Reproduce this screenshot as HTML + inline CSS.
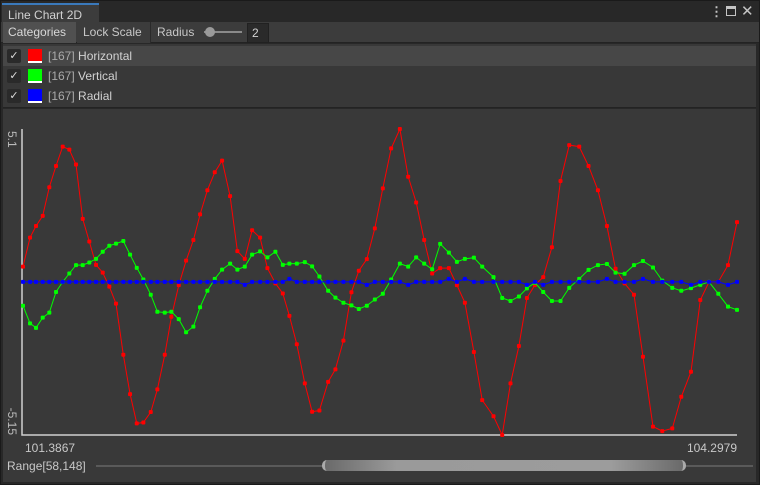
<!DOCTYPE html>
<html><head><meta charset="utf-8"><style>
body{margin:0;width:760px;height:485px;background:#282828;font-family:"Liberation Sans",sans-serif;font-size:12px;color:#c8c8c8;overflow:hidden;position:relative}
div{box-sizing:border-box}
.abs{position:absolute}
</style></head><body>
<div class="abs" style="left:0;top:0;width:760px;height:485px;border:1px solid #1a1a1a"></div>
<div class="abs" style="left:2px;top:3px;width:97px;height:20px;background:#3c3c3c;border-top:2px solid #3a79bb;padding:3px 6px;color:#d2d2d2">Line Chart 2D</div>
<div class="abs" style="left:710px;top:4px;color:#c4c4c4;font-size:13px;font-weight:bold">⋮</div>
<div class="abs" style="left:726px;top:6px;width:10px;height:10px;border:1.5px solid #c4c4c4;border-top-width:3px"></div>
<div class="abs" style="left:741px;top:2px;color:#c4c4c4;font-size:15px">✕</div>
<div class="abs" style="left:1px;top:22px;width:758px;height:21px;background:#3c3c3c;border-bottom:1px solid #232323"></div>
<div class="abs" style="left:3px;top:22px;width:73px;height:21px;background:#505050;padding:3px 5px;color:#d8d8d8">Categories</div>
<div class="abs" style="left:77px;top:22px;width:74px;height:21px;background:#3c3c3c;border-right:1px solid #2a2a2a;padding:3px 6px">Lock Scale</div>
<div class="abs" style="left:157px;top:25px">Radius</div>
<div class="abs" style="left:204px;top:31px;width:38px;height:2px;background:#8a8a8a"></div>
<div class="abs" style="left:205px;top:27px;width:10px;height:10px;border-radius:5px;background:#9a9a9a"></div>
<div class="abs" style="left:247px;top:23px;width:22px;height:20px;background:#2a2a2a;border:1px solid #212121;padding:2px 4px;color:#d2d2d2">2</div>
<div class="abs" style="left:3px;top:44px;width:753px;height:64px;background:#383838;border-bottom:1px solid #232323"></div>
<div class="abs" style="left:3px;top:46px;width:753px;height:20px;background:#474747"></div>
<div>
<div class="abs" style="left:7px;top:49px;width:14px;height:14px;background:#2a2a2a;border-radius:2px;color:#ddd;font-size:11px;text-align:center;line-height:14px">✓</div>
<div class="abs" style="left:28px;top:49px;width:14px;height:14px;background:#f00;border-bottom:2px solid #fff"></div>
<div class="abs" style="left:48px;top:49px;color:#d2d2d2"><span style="color:#aaa">[167]</span> Horizontal</div></div>
<div>
<div class="abs" style="left:7px;top:69px;width:14px;height:14px;background:#2a2a2a;border-radius:2px;color:#ddd;font-size:11px;text-align:center;line-height:14px">✓</div>
<div class="abs" style="left:28px;top:69px;width:14px;height:14px;background:#0f0;border-bottom:2px solid #fff"></div>
<div class="abs" style="left:48px;top:69px;color:#d2d2d2"><span style="color:#aaa">[167]</span> Vertical</div></div>
<div>
<div class="abs" style="left:7px;top:89px;width:14px;height:14px;background:#2a2a2a;border-radius:2px;color:#ddd;font-size:11px;text-align:center;line-height:14px">✓</div>
<div class="abs" style="left:28px;top:89px;width:14px;height:14px;background:#00f;border-bottom:2px solid #fff"></div>
<div class="abs" style="left:48px;top:89px;color:#d2d2d2"><span style="color:#aaa">[167]</span> Radial</div></div>
<div class="abs" style="left:3px;top:109px;width:753px;height:373px;background:#393939"></div>
<svg class="abs" id="chart" style="left:0;top:0" width="760" height="485"></svg>
<div class="abs" style="left:7px;top:459px">Range[58,148]</div>
<div class="abs" style="left:96px;top:465px;width:657px;height:2px;background:#5a5a5a"></div>
<div class="abs" style="left:322px;top:460px;width:364px;height:11px;border-radius:5px;background:linear-gradient(90deg,#6a6a6a,#9a9a9a 20%,#9c9c9c 80%,#6a6a6a);border-left:3px solid #aaa;border-right:3px solid #aaa"></div>
<script>
const xVals=[101.3867,101.4153,101.4397,101.4671,101.4940,101.5213,101.5486,101.5756,101.6029,101.6302,101.6571,101.6845,101.7118,101.7387,101.7660,101.7958,101.8232,101.8505,101.8774,101.9076,101.9345,101.9647,101.9916,102.0218,102.0516,102.0814,102.1087,102.1385,102.1686,102.1984,102.2311,102.2608,102.2910,102.3208,102.3534,102.3832,102.4158,102.4460,102.4729,102.5031,102.5358,102.5655,102.5953,102.6308,102.6606,102.6932,102.7258,102.7560,102.7886,102.8213,102.8539,102.8878,102.9233,102.9571,102.9897,103.0224,103.0550,103.0876,103.1231,103.1558,103.1884,103.2251,103.2590,103.3051,103.3405,103.3744,103.4087,103.4413,103.4739,103.5078,103.5433,103.5783,103.6138,103.6546,103.6926,103.7309,103.7676,103.8027,103.8394,103.8778,103.9145,103.9553,103.9932,104.0340,104.0707,104.1102,104.1482,104.1837,104.2216,104.2612,104.2979];
const horizontal=[0.49,1.46,1.85,2.19,3.15,3.86,4.51,4.41,3.91,2.09,1.33,0.55,0.29,-0.18,-0.75,-2.46,-3.78,-4.76,-4.73,-4.38,-3.62,-2.46,-1.19,-0.13,0.69,1.38,2.24,3.05,3.65,4.04,2.85,1.01,0.75,1.71,1.46,0.44,-0.07,-0.41,-1.16,-2.11,-3.42,-4.37,-4.33,-3.37,-2.95,-1.99,-0.37,0.35,0.74,1.77,3.11,4.45,5.10,3.50,2.64,1.38,0.26,0.44,0.44,-0.13,-0.72,-2.37,-3.98,-4.52,-5.15,-3.42,-2.17,-0.56,-0.13,0.14,1.14,3.36,4.56,4.51,3.86,3.05,1.85,0.42,-0.07,-0.45,-2.53,-4.87,-5.02,-4.93,-3.87,-3.03,-0.63,-0.02,-0.02,0.54,1.98];
const vertical=[-0.82,-1.41,-1.56,-1.22,-1.05,-0.36,-0.02,0.26,0.54,0.54,0.63,0.75,0.99,1.19,1.26,1.35,0.89,0.45,0.06,-0.45,-1.02,-1.05,-1.02,-1.27,-1.71,-1.52,-0.87,-0.32,0.08,0.39,0.59,0.39,0.49,0.89,1.00,0.80,0.99,0.55,0.59,0.59,0.64,0.50,0.16,-0.32,-0.55,-0.72,-0.81,-0.93,-0.82,-0.61,-0.42,0.06,0.59,0.49,0.80,0.59,0.40,1.25,0.96,0.65,0.75,0.79,0.49,0.14,-0.56,-0.66,-0.51,-0.24,-0.05,-0.36,-0.66,-0.66,-0.22,0.08,0.38,0.54,0.58,0.29,0.25,0.54,0.68,0.46,0.02,-0.22,-0.32,-0.23,-0.12,-0.02,-0.42,-0.85,-0.96];
const radial=[-0.02,-0.02,-0.02,-0.02,-0.02,-0.02,-0.02,-0.02,-0.02,-0.02,-0.02,-0.02,-0.02,-0.02,-0.02,-0.02,-0.02,-0.02,-0.02,-0.02,-0.02,-0.02,-0.02,-0.02,-0.02,-0.02,-0.02,-0.02,-0.02,-0.02,-0.02,-0.02,-0.12,-0.02,-0.02,-0.02,-0.02,-0.02,0.08,-0.02,-0.02,-0.02,-0.02,-0.02,-0.02,-0.02,-0.02,-0.02,-0.12,-0.02,-0.02,-0.02,-0.02,-0.12,-0.02,-0.02,-0.02,-0.02,0.08,-0.02,0.08,-0.02,-0.02,-0.02,-0.02,-0.02,-0.02,-0.12,-0.02,-0.12,-0.02,-0.02,-0.02,-0.02,-0.02,-0.02,0.08,-0.02,-0.02,-0.02,0.08,-0.02,-0.02,-0.02,-0.02,-0.12,-0.02,-0.02,-0.02,-0.12,-0.02];
const yTicks=["5.1","-5.15"];
const xTicks=["101.3867","104.2979"];
const yMax=5.1,yMin=-5.15;
const NS="http://www.w3.org/2000/svg";
const svg=document.getElementById('chart');
const L=23,R=737,T=129,B=435;
const xMin=xVals[0],xMax=xVals[xVals.length-1];
function sx(v){return L+(v-xMin)/(xMax-xMin)*(R-L);}
function sy(v){return T+(yMax-v)/(yMax-yMin)*(B-T);}
function mk(tag,attrs){const e=document.createElementNS(NS,tag);for(const k in attrs)e.setAttribute(k,attrs[k]);svg.appendChild(e);return e;}
const ax=mk('path',{d:`M${L-1},${T} V${B} H${R}`,stroke:'#d0d0d0','stroke-width':1.5,fill:'none'});


const yt1=mk('text',{x:0,y:0,fill:'#bbb','font-size':12,'font-family':'Liberation Sans, sans-serif','text-anchor':'start',transform:`translate(8,${T+2}) rotate(90)`});
yt1.textContent=yTicks[0];


const yt2=mk('text',{x:0,y:0,fill:'#bbb','font-size':12,'font-family':'Liberation Sans, sans-serif','text-anchor':'end',transform:`translate(8,${B}) rotate(90)`});
yt2.textContent=yTicks[1];


const xt1=mk('text',{x:L+2,y:452,fill:'#c8c8c8','font-size':12,'font-family':'Liberation Sans, sans-serif'});
xt1.textContent=xTicks[0];


const xt2=mk('text',{x:R,y:452,fill:'#c8c8c8','font-size':12,'font-family':'Liberation Sans, sans-serif','text-anchor':'end'});
xt2.textContent=xTicks[1];


function series(vals,color,name){
  const pts=vals.map((v,i)=>sx(xVals[i]).toFixed(1)+','+sy(v).toFixed(1)).join(' ');
  const pl=mk('polyline',{points:pts,stroke:color,'stroke-width':1,fill:'none'});
  
  
  vals.forEach((v,i)=>{
    const c=mk('rect',{x:sx(xVals[i])-2,y:sy(v)-2,width:4,height:4,fill:color,rx:1});
    
    
  });
}
series(horizontal,'#ff0000','horizontal');
series(vertical,'#00ff00','vertical');
series(radial,'#0000ff','radial');
</script>
</body></html>
